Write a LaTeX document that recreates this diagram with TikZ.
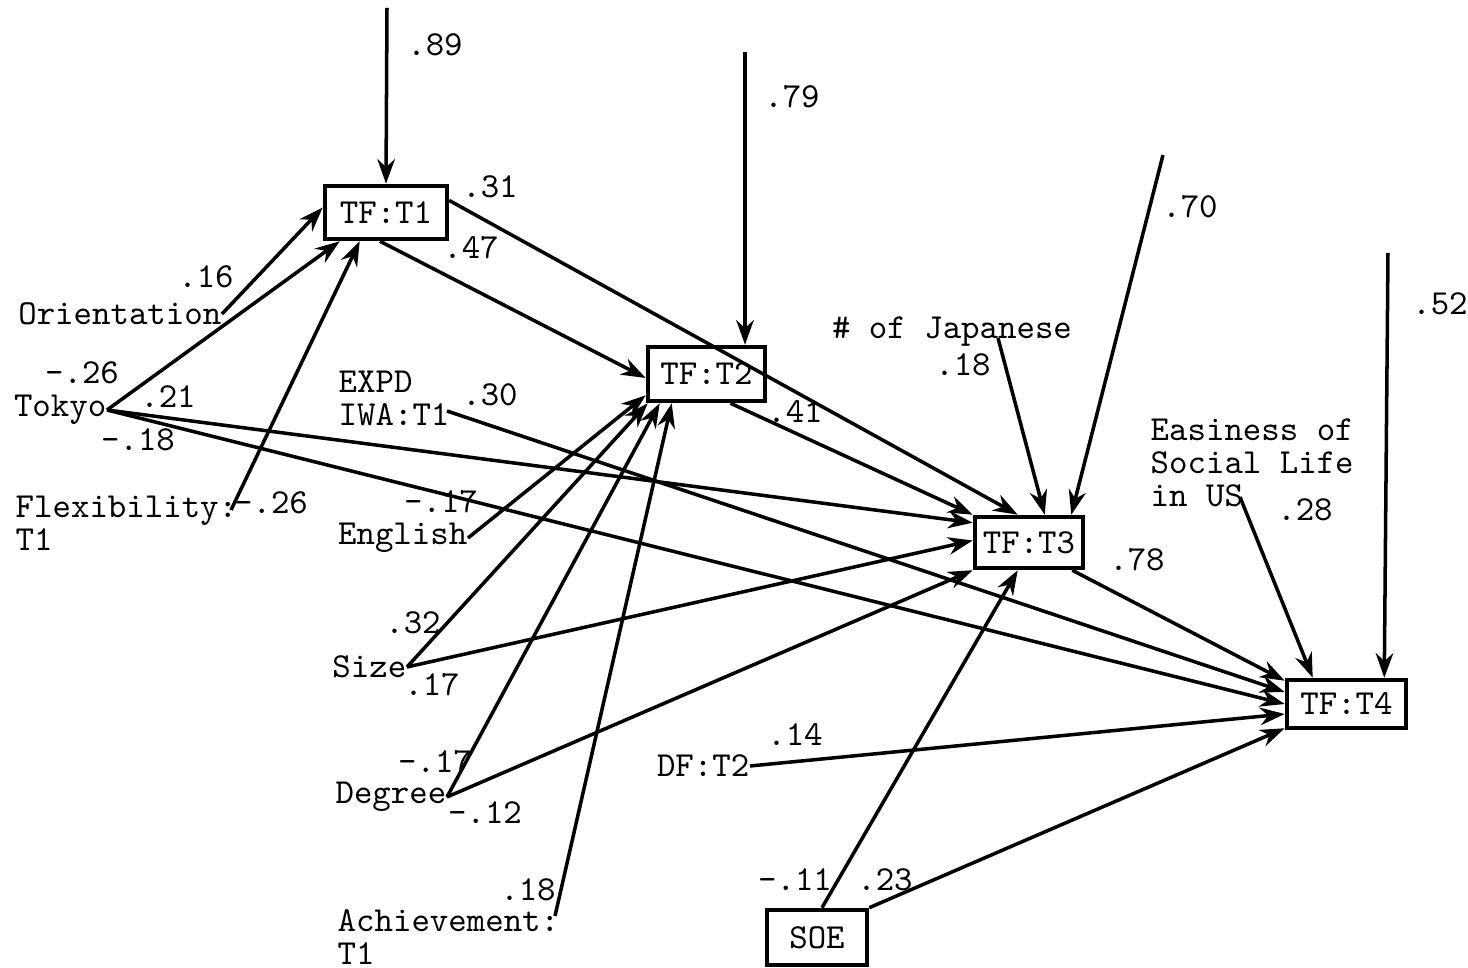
\documentclass[tikz,border=0pt]{standalone}
\usepackage{tikz}
\usetikzlibrary{arrows.meta}

\begin{document}
\begin{tikzpicture}[
    font=\ttfamily\fontsize{10pt}{9.4pt}\selectfont,
    tfbox/.style={draw, line width=1.3pt, minimum height=0.52cm, inner sep=0pt},
    varlabel/.style={inner sep=0pt, align=left},
    coef/.style={inner sep=0pt},
    effect/.style={line width=1pt, -{Stealth[length=7pt, width=5pt]}}
]
    \useasboundingbox (0,0) rectangle (14.68,-9.68);
    %boxes
    \node[tfbox, minimum width=1.22cm, minimum height=0.53cm] (t1) at (3.86,-2.125) {TF:T1};
    \node[tfbox, minimum width=1.17cm, minimum height=0.54cm] (t2) at (7.065,-3.74) {TF:T2};
    \node[tfbox, minimum width=1.08cm, minimum height=0.51cm] (t3) at (10.29,-5.425) {TF:T3};
    \node[tfbox, minimum width=1.19cm, minimum height=0.48cm] (t4) at (13.465,-7.04) {TF:T4};
    \node[tfbox, minimum width=1.0cm, minimum height=0.55cm] (soe) at (8.17,-9.375) {SOE};
    %variables
    \node[varlabel, anchor=east] (orient) at (2.22,-3.14) {Orientation};
    \node[varlabel, anchor=east] (tokyo) at (1.07,-4.10) {Tokyo};
    \node[varlabel, anchor=north west] (flex) at (0.15,-4.95) {Flexibility:\\T1};
    \coordinate (flex-o) at (2.31,-5.10);
    \node[varlabel, anchor=north west] (expd) at (3.38,-3.70) {EXPD\\IWA:T1};
    \coordinate (expd-o) at (4.47,-4.11);
    \node[varlabel, anchor=east] (english) at (4.68,-5.38) {English};
    \node[varlabel, anchor=east] (size) at (4.07,-6.67) {Size};
    \node[varlabel, anchor=east] (degree) at (4.47,-7.97) {Degree};
    \node[varlabel, anchor=north west] (achieve) at (3.37,-9.09) {Achievement:\\T1};
    \coordinate (achieve-o) at (5.55,-9.16);
    \node[varlabel, anchor=east] (dft2) at (7.50,-7.66) {DF:T2};
    \node[varlabel] (japanese) at (9.52,-3.32) {\# of Japanese};
    \coordinate (jap-o) at (9.98,-3.38);
    \node[varlabel, anchor=north west] (easiness) at (11.50,-4.18) {Easiness of\\Social Life\\in US};
    \coordinate (eas-o) at (12.40,-4.97);
    %residuals
    \coordinate (r1) at (3.87,-0.08);
    \coordinate (r2) at (7.45,-0.52);
    \coordinate (r3) at (11.63,-1.55);
    \coordinate (r4) at (13.88,-2.53);
    \draw[effect] (r1) -- (t1.north);
    \draw[effect] (r2) -- (r2 |- t2.north);
    \draw[effect] (r3) -- ([xshift=-0.14cm]t3.north east);
    \draw[effect] (r4) -- ([xshift=-0.24cm]t4.north east);
    %into TF:T1
    \draw[effect] (orient.east) -- ([yshift=0.05cm]t1.west);
    \draw[effect] (tokyo.east) -- ([xshift=0.17cm]t1.south west);
    \draw[effect] (flex-o) -- ([xshift=0.37cm]t1.south west);
    %into TF:T2
    \draw[effect] ([xshift=-0.06cm]t1.south) -- ([yshift=-0.04cm]t2.west);
    \draw[effect] (english.east) -- ([yshift=0.08cm]t2.south west);
    \draw[effect] (size.east) -- ([xshift=0.02cm]t2.south west);
    \draw[effect] (degree.east) -- ([xshift=0.14cm]t2.south west);
    \draw[effect] (achieve-o) -- ([xshift=0.26cm]t2.south west);
    %into TF:T3
    \draw[effect] ([yshift=0.12cm]t1.east) -- ([xshift=0.45cm]t3.north west);
    \draw[effect] ([xshift=0.24cm]t2.south) -- (t3.north west);
    \draw[effect] (tokyo.east) -- ([yshift=-0.08cm]t3.north west);
    \draw[effect] (size.east) -- ([yshift=0.02cm]t3.west);
    \draw[effect] (degree.east) -- (t3.south west);
    \draw[effect] (jap-o) -- ([xshift=0.72cm]t3.north west);
    \draw[effect] ([xshift=0.05cm]soe.north) -- ([xshift=0.45cm]t3.south west);
    %into TF:T4
    \draw[effect] ([xshift=-0.13cm]t3.south east) -- ([yshift=-0.03cm]t4.north west);
    \draw[effect] (expd-o) -- ([yshift=0.12cm]t4.west);
    \draw[effect] (tokyo.east) -- (t4.west);
    \draw[effect] (dft2.east) -- ([yshift=-0.1cm]t4.west);
    \draw[effect] (soe.north east) -- ([yshift=0.02cm]t4.south west);
    \draw[effect] (eas-o) -- ([xshift=0.28cm]t4.north west);
    %coefficients
    \node[coef] (c-r1) at (4.35,-0.45) {.89};
    \node[coef] (c-r2) at (7.92,-0.97) {.79};
    \node[coef] (c-r3) at (11.90,-2.07) {.70};
    \node[coef] (c-r4) at (14.40,-3.04) {.52};
    \node[coef] (c-t1t3) at (4.90,-1.87) {.31};
    \node[coef] (c-t1t2) at (4.71,-2.48) {.47};
    \node[coef] (c-orient) at (2.06,-2.77) {.16};
    \node[coef] (c-tokyo1) at (0.82,-3.73) {-.26};
    \node[coef] (c-tokyo3) at (1.68,-3.97) {.21};
    \node[coef] (c-tokyo4) at (1.38,-4.40) {-.18};
    \node[coef] (c-flex) at (2.71,-5.03) {-.26};
    \node[coef] (c-expd) at (4.90,-3.95) {.30};
    \node[coef] (c-english) at (4.41,-5.02) {-.17};
    \node[coef] (c-size2) at (4.13,-6.23) {.32};
    \node[coef] (c-size3) at (4.32,-6.85) {.17};
    \node[coef] (c-degree2) at (4.35,-7.62) {-.17};
    \node[coef] (c-degree3) at (4.85,-8.13) {-.12};
    \node[coef] (c-achieve) at (5.28,-8.90) {.18};
    \node[coef] (c-t2t3) at (7.95,-4.12) {.41};
    \node[coef] (c-jap) at (9.63,-3.65) {.18};
    \node[coef] (c-eas) at (13.05,-5.10) {.28};
    \node[coef] (c-t3t4) at (11.37,-5.60) {.78};
    \node[coef] (c-dft2) at (7.95,-7.35) {.14};
    \node[coef] (c-soe3) at (7.95,-8.80) {-.11};
    \node[coef] (c-soe4) at (8.85,-8.80) {.23};
\end{tikzpicture}
\end{document}
